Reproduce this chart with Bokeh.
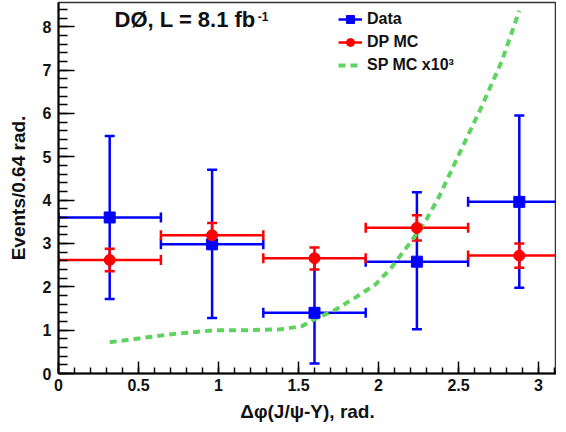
from bokeh.plotting import figure
from bokeh.models import (ColumnDataSource, Whisker, TeeHead, Label, Legend, LegendItem,
                          SingleIntervalTicker, CustomJSTickFormatter, Range1d)
from bokeh.embed import file_html
from bokeh.resources import INLINE

# ---- data ----
bin_centers = [0.32, 0.96, 1.60, 2.24, 2.88]
bin_half = [0.32, 0.32, 0.32, 0.32, 0.32]

data_y = [3.60, 2.98, 1.40, 2.58, 3.96]
data_hi = [5.48, 4.70, 2.62, 4.18, 5.95]
data_lo = [1.72, 1.28, 0.23, 1.02, 1.98]

dp_y = [2.62, 3.19, 2.66, 3.36, 2.72]
dp_hi = [2.88, 3.47, 2.91, 3.65, 3.00]
dp_lo = [2.36, 2.89, 2.40, 3.07, 2.44]

sp_x = [0.32, 0.69, 0.98, 1.19, 1.39, 1.52, 1.60, 1.73, 1.85, 1.98, 2.08, 2.19, 2.29,
        2.38, 2.52, 2.64, 2.77, 2.88]
sp_y = [0.72, 0.90, 1.00, 1.00, 1.02, 1.09, 1.25, 1.47, 1.74, 2.05, 2.44, 2.98, 3.49,
        4.09, 5.19, 6.12, 7.20, 8.37]

BLUE = "#0000ff"
RED = "#ff0000"
GREEN = "#5fd35f"
FONT = "Liberation Sans"

p = figure(width=556, height=424, output_backend="svg", toolbar_location=None,
           x_range=Range1d(0, 3.1125), y_range=Range1d(0, 8.56),
           min_border_left=58, min_border_right=0, min_border_top=2, min_border_bottom=10)
p.xgrid.visible = False
p.ygrid.visible = False
p.outline_line_color = "#333333"
p.outline_line_width = 1.5
p.background_fill_color = "white"
p.border_fill_color = "white"

# axes
p.xaxis.ticker = SingleIntervalTicker(interval=0.5, num_minor_ticks=5)
p.yaxis.ticker = SingleIntervalTicker(interval=1, num_minor_ticks=5)
p.xaxis.formatter = CustomJSTickFormatter(code="return String(Math.round(tick*10)/10);")
for ax in (p.xaxis[0], p.yaxis[0]):
    ax.axis_line_color = "black"
    ax.axis_line_width = 2
    ax.major_tick_line_color = "black"
    ax.minor_tick_line_color = "black"
    ax.major_tick_line_width = 1.5
    ax.minor_tick_line_width = 1.5
    ax.major_tick_out = 0
    ax.minor_tick_out = 0
    ax.major_label_text_font = FONT
    ax.major_label_text_font_style = "bold"
    ax.major_label_text_font_size = "16px"
    ax.major_label_text_color = "#111111"
    ax.axis_label_text_font = FONT
    ax.axis_label_text_font_style = "bold"
    ax.axis_label_text_color = "#111111"
p.xaxis.major_tick_in = 12
p.xaxis.minor_tick_in = 6
p.yaxis.major_tick_in = 16
p.yaxis.minor_tick_in = 9
p.xaxis.major_label_standoff = 5
p.yaxis.major_label_standoff = 7
p.xaxis.axis_label = "Δφ(J/ψ-Υ), rad."
p.yaxis.axis_label = "Events/0.64 rad."
p.xaxis.axis_label_text_font_size = "19px"
p.yaxis.axis_label_text_font_size = "19px"
p.xaxis.axis_label_standoff = 7
p.yaxis.axis_label_standoff = 11

xlo = [c - h for c, h in zip(bin_centers, bin_half)]
xhi = [c + h for c, h in zip(bin_centers, bin_half)]

src_data = ColumnDataSource(dict(x=bin_centers, y=data_y, hi=data_hi, lo=data_lo, xlo=xlo, xhi=xhi))
src_dp = ColumnDataSource(dict(x=bin_centers, y=dp_y, hi=dp_hi, lo=dp_lo, xlo=xlo, xhi=xhi))

LW = 2.5
CAP = 10


def add_errors(src, color):
    p.add_layout(Whisker(source=src, base="x", upper="hi", lower="lo", dimension="height",
                         line_color=color, line_width=LW,
                         upper_head=TeeHead(size=CAP, line_color=color, line_width=LW),
                         lower_head=TeeHead(size=CAP, line_color=color, line_width=LW)))
    p.add_layout(Whisker(source=src, base="y", upper="xhi", lower="xlo", dimension="width",
                         line_color=color, line_width=LW,
                         upper_head=TeeHead(size=CAP, line_color=color, line_width=LW),
                         lower_head=TeeHead(size=CAP, line_color=color, line_width=LW)))


# SP MC curve
sp_line = p.line(sp_x, sp_y, line_color=GREEN, line_width=4, line_dash="7 5")

add_errors(src_data, BLUE)
data_pts = p.scatter("x", "y", source=src_data, marker="square", size=11,
                     fill_color=BLUE, line_color=BLUE)
add_errors(src_dp, RED)
dp_pts = p.scatter("x", "y", source=src_dp, marker="circle", size=11,
                   fill_color=RED, line_color=RED)

# legend key lines (kept outside the visible range)
data_leg_line = p.line([-5, -4], [-5, -4], line_color=BLUE, line_width=LW)
dp_leg_line = p.line([-5, -4], [-5, -4], line_color=RED, line_width=LW)

legend = Legend(items=[
    LegendItem(label="Data", renderers=[data_leg_line, data_pts]),
    LegendItem(label="DP MC", renderers=[dp_leg_line, dp_pts]),
    LegendItem(label="SP MC x10³", renderers=[sp_line]),
], location=(280, 298), orientation="vertical",
    background_fill_alpha=0, border_line_color=None,
    label_text_font=FONT, label_text_font_style="bold", label_text_font_size="16px",
    label_text_color="#111111",
    glyph_width=24, glyph_height=20, label_height=20, spacing=3,
    padding=0, margin=0, label_standoff=5)
p.add_layout(legend)

# title text
p.add_layout(Label(x=0.35, y=7.88, text="DØ, L = 8.1 fb", text_font=FONT,
                   text_font_style="bold", text_font_size="22px", text_color="#111111"))
p.add_layout(Label(x=1.245, y=8.14, text="-1", text_font=FONT,
                   text_font_style="bold", text_font_size="12px", text_color="#111111"))

open("out.html", "w").write(file_html(p, INLINE))
